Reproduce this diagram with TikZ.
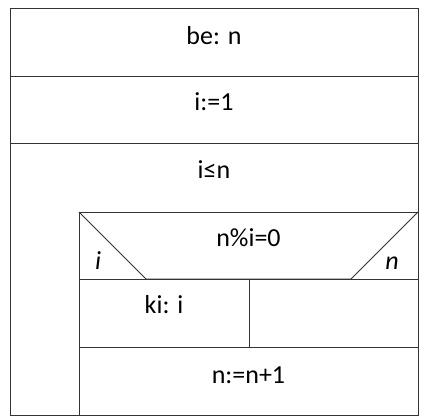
\documentclass[tikz,border=0pt]{standalone}
\usepackage{fontspec}
\setmainfont{Carlito}
\begin{document}
\begin{tikzpicture}[
  x=1pt, y=-1pt,
  box/.style={draw=black!80, line width=0.9pt},
  stmt/.style={anchor=base, inner sep=0pt, font=\fontsize{26}{31}\selectfont},
  branch/.style={anchor=base, inner sep=0pt, font=\fontsize{26}{31}\selectfont\itshape},
]
  \useasboundingbox (0,0) rectangle (423,418);
  % outer frame and sequence rows
  \draw[box] (10,8) rectangle (418,415);
  \draw[box] (10,76) -- (418,76);
  \draw[box] (10,143) -- (418,143);
  % loop body
  \draw[box] (79,212) rectangle (418,415);
  \draw[box] (79,212) -- (146,279) -- (351,279) -- (418,212);
  \draw[box] (79,279) -- (418,279);
  \draw[box] (249,279) -- (249,347);
  \draw[box] (79,347) -- (418,347);

  \node[stmt] (input) at (214,44) {be: n};
  \node[stmt] (init) at (214,110.5) {i:=1};
  \node[stmt] (loop) at (214,178) {i≤n};
  \node[stmt] (cond) at (248.5,246.5) {n\%i=0};
  \node[branch] (yes) at (98,269) {i};
  \node[branch] (no) at (392,269) {n};
  \node[stmt] (output) at (164,313.5) {ki: i};
  \node[stmt] (incr) at (248.5,383) {n:=n+1};
\end{tikzpicture}
\end{document}
